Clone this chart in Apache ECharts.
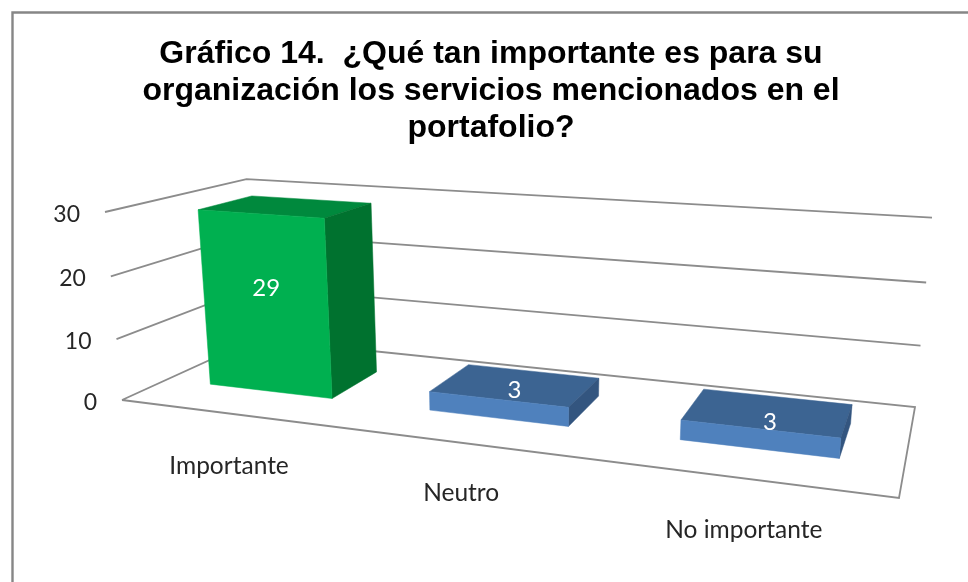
<!DOCTYPE html>
<html>
<head>
<meta charset="utf-8">
<style>html,body{margin:0;padding:0;background:#fff}#c{width:968px;height:582px}</style>
<script src="https://cdn.jsdelivr.net/npm/echarts@6/dist/echarts.min.js"></script>
</head>
<body>
<div id="c"></div>
<script>
// ---- data ----
const categories = ['Importante', 'Neutro', 'No importante'];
const values = [29, 3, 3];
const axisTicks = [0, 10, 20, 30];
const titleText = 'Gráfico 14.  ¿Qué tan importante es para su\norganización los servicios mencionados en el\nportafolio?';

// ---- look ----
const faceFront = ['#00B050', '#4F81BD', '#4F81BD'];
const faceTop = ['#00893D', '#3C6492', '#3C6492'];
const faceSide = ['#00722F', '#33557F', '#33557F'];
const labelDepth = [0.305, 0.44, 0.395];
const labelHeight = [0.59, 1, 1];
const labelShift = [0.003, 0.006, 0.008];
const categoryNudge = [[-3, 1], [-10, -2], [-3, 1]];
const LINE = '#8C8C8C';
const TEXT_FONT = 'Lato';

// ---- perspective box: the plotting grid is mapped onto this projective camera ----
const GRID = { left: 122, top: 212, width: 793, height: 188 };
const FLOOR = [[122, 400], [899, 498], [915, 407], [256, 339]];
const TOP_NEAR_LEFT = [105, 212], TOP_FAR_RIGHT = [932, 215];
const BAR_FRACTION = 0.57, BAR_SHIFT = -0.002, DEPTH_NEAR = 0.305, DEPTH_FAR = 0.705;

function makeCamera(q, tA, tB) {
  const [p0, p1, p2, p3] = q;
  const dx1 = p1[0] - p2[0], dx2 = p3[0] - p2[0], sx = p0[0] - p1[0] + p2[0] - p3[0];
  const dy1 = p1[1] - p2[1], dy2 = p3[1] - p2[1], sy = p0[1] - p1[1] + p2[1] - p3[1];
  const det = dx1 * dy2 - dx2 * dy1;
  const g = (sx * dy2 - dx2 * sy) / det, h = (dx1 * sy - sx * dy1) / det;
  const a = p1[0] - p0[0] + g * p1[0], b = p3[0] - p0[0] + h * p3[0];
  const d = p1[1] - p0[1] + g * p1[1], e = p3[1] - p0[1] + h * p3[1];
  const c = p0[0], f = p0[1];
  // vertical column: pinned by the near-left and far-right top corners
  const Xb = a + b + c, Wb = g + h + 1;
  const Sz = (Xb - c + tA[0] - tB[0] * Wb) / (tB[0] - tA[0]);
  const Sx = tA[0] * (1 + Sz) - c, Sy = tA[1] * (1 + Sz) - f;
  return (u, v, t) => {
    const w = g * u + h * v + Sz * t + 1;
    return [(a * u + b * v + Sx * t + c) / w, (d * u + e * v + Sy * t + f) / w];
  };
}
const project = makeCamera(FLOOR, TOP_NEAR_LEFT, TOP_FAR_RIGHT);
const normU = x => (x - GRID.left) / GRID.width;
const normT = y => (GRID.top + GRID.height - y) / GRID.height;

function poly(points, fill) {
  return { type: 'polygon', shape: { points }, style: { fill, stroke: fill, lineWidth: 0.5 } };
}

function renderWall(params, api) {
  const tick = api.value(1);
  const t = normT(api.coord([0, tick])[1]);
  const pts = [project(0, 0, t), project(0, 1, t), project(1, 1, t)];
  if (tick === 0) pts.push(project(1, 0, 0), project(0, 0, 0));
  return {
    type: 'group',
    children: [
      { type: 'polyline', shape: { points: pts }, style: { stroke: LINE, lineWidth: 1.8, fill: null } },
      {
        type: 'text',
        style: {
          x: pts[0][0] - 25, y: pts[0][1] + 2.5,
          text: String(tick), fill: '#262626',
          font: '23px ' + TEXT_FONT, align: 'right', verticalAlign: 'middle'
        }
      }
    ]
  };
}

function renderBar(params, api) {
  const i = api.value(0);
  const c = api.coord([i, api.value(1)]);
  const half = api.size([1, 0])[0] * BAR_FRACTION / GRID.width / 2;
  const uc = normU(c[0]) + BAR_SHIFT, u0 = uc - half, u1 = uc + half;
  const t = normT(c[1]), n = DEPTH_NEAR, f = DEPTH_FAR;
  const anchor = project(uc + labelShift[i], labelDepth[i], t * labelHeight[i]);
  return {
    type: 'group',
    children: [
      poly([project(u0, n, t), project(u1, n, t), project(u1, f, t), project(u0, f, t)], faceTop[i]),
      poly([project(u1, n, 0), project(u1, f, 0), project(u1, f, t), project(u1, n, t)], faceSide[i]),
      poly([project(u0, n, 0), project(u1, n, 0), project(u1, n, t), project(u0, n, t)], faceFront[i]),
      {
        type: 'text',
        style: {
          x: anchor[0], y: anchor[1], text: String(api.value(1)), fill: '#FFFFFF',
          font: '24px ' + TEXT_FONT, align: 'center', verticalAlign: 'middle'
        }
      }
    ]
  };
}

function renderCategory(params, api) {
  const i = api.value(0);
  const p = project(normU(api.coord([i, 0])[0]), 0, 0);
  return {
    type: 'text',
    style: {
      x: p[0] + 2 + categoryNudge[i][0], y: p[1] + 51 + categoryNudge[i][1], text: categories[i], fill: '#262626',
      font: '24.5px ' + TEXT_FONT, align: 'center', verticalAlign: 'middle'
    }
  };
}

const chart = echarts.init(document.getElementById('c'), null, { renderer: 'canvas' });
chart.setOption({
  animation: false,
  backgroundColor: '#FFFFFF',
  title: {
    text: titleText, left: 486, top: 31, textAlign: 'center',
    textStyle: { fontFamily: 'Liberation Sans', fontWeight: 'bold', fontSize: 32, lineHeight: 37, color: '#000000' }
  },
  grid: { left: GRID.left, top: GRID.top, width: GRID.width, height: GRID.height },
  xAxis: { type: 'category', data: categories, show: false },
  yAxis: { type: 'value', min: 0, max: 30, interval: 10, show: false },
  graphic: [{
    type: 'polyline', silent: true,
    shape: { points: [[12.5, 582], [12.5, 12.5], [968, 12.5]] },
    style: { stroke: '#868686', lineWidth: 2.4, fill: null }
  }],
  series: [
    { type: 'custom', silent: true, renderItem: renderWall, encode: { x: 0, y: 1 }, data: axisTicks.map(t => [0, t]), z: 1 },
    { type: 'custom', silent: true, renderItem: renderBar, encode: { x: 0, y: 1 }, data: values.map((v, i) => [i, v]), z: 2 },
    { type: 'custom', silent: true, renderItem: renderCategory, encode: { x: 0, y: 1 }, data: categories.map((_, i) => [i, 0]), z: 3 }
  ]
});
</script>
</body>
</html>
